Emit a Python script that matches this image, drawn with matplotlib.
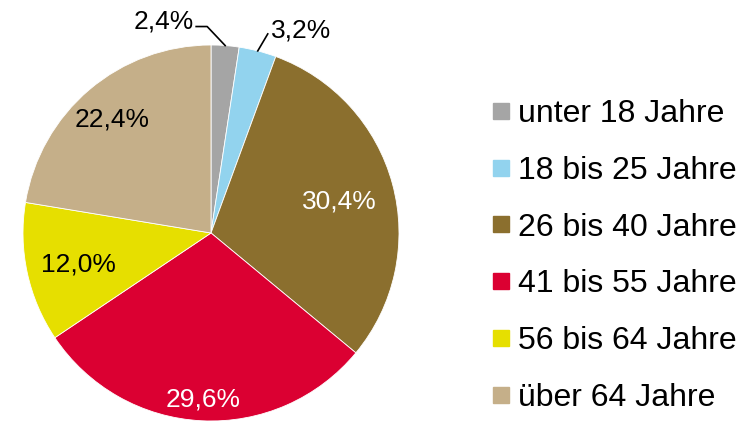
import numpy as np
import matplotlib.pyplot as plt
from matplotlib.lines import Line2D

plt.rcParams['font.family'] = ['Liberation Sans', 'DejaVu Sans']

labels = ['unter 18 Jahre', '18 bis 25 Jahre', '26 bis 40 Jahre',
          '41 bis 55 Jahre', '56 bis 64 Jahre', 'über 64 Jahre']
values = [2.4, 3.2, 30.4, 29.6, 12.0, 22.4]
colors = ['#A5A5A5', '#92D3EE', '#8B6F2E', '#DB0032', '#E6DF00', '#C5AF89']
text_colors = ['black', 'black', 'white', 'white', 'black', 'black']
label_dist = [None, None, 0.71, 0.87, 0.72, 0.81]

W, H = 740, 421
fig = plt.figure(figsize=(W / 100, H / 100), dpi=100)
ax = fig.add_axes([0, 0, 1, 1])

cx, cy, R = 211, 188, 188
wedges, _ = ax.pie(values, colors=colors, startangle=90, counterclock=False,
                   center=(cx, cy), radius=R, frame=True,
                   wedgeprops=dict(edgecolor='white', linewidth=0.6))
ax.set_xlim(0, W)
ax.set_ylim(0, H)
ax.axis('off')

for w, v, tc, d in zip(wedges, values, text_colors, label_dist):
    ang = np.deg2rad((w.theta1 + w.theta2) / 2)
    txt = f"{v:.1f}%".replace('.', ',')
    if d is not None:
        ax.text(cx + d * R * np.cos(ang), cy + d * R * np.sin(ang) - 3, txt,
                color=tc, fontsize=19, ha='center', va='center')
    else:
        ex, ey = cx + R * np.cos(ang), cy + R * np.sin(ang)
        if v < 3:
            ax.plot([ex, ex - 18, ex - 29], [ey, ey + 19, ey + 19], color='black', lw=1.2)
            ax.text(ex - 31, ey + 24, txt, fontsize=19, ha='right', va='center')
        else:
            ax.plot([ex, ex + 10], [ey, ey + 17], color='black', lw=1.2)
            ax.text(ex + 13, ey + 20, txt, fontsize=19, ha='left', va='center')

handles = [Line2D([], [], marker='s', linestyle='none', markersize=11.5,
                  markerfacecolor=c, markeredgecolor=c) for c in colors]
fig.legend(handles, labels, loc='upper left', bbox_to_anchor=(474 / W, 1 - 83 / H),
           frameon=False, fontsize=23, labelspacing=0.84, handlelength=0.7,
           handletextpad=0.17, borderpad=0)

fig.savefig('out.png', dpi=100)
